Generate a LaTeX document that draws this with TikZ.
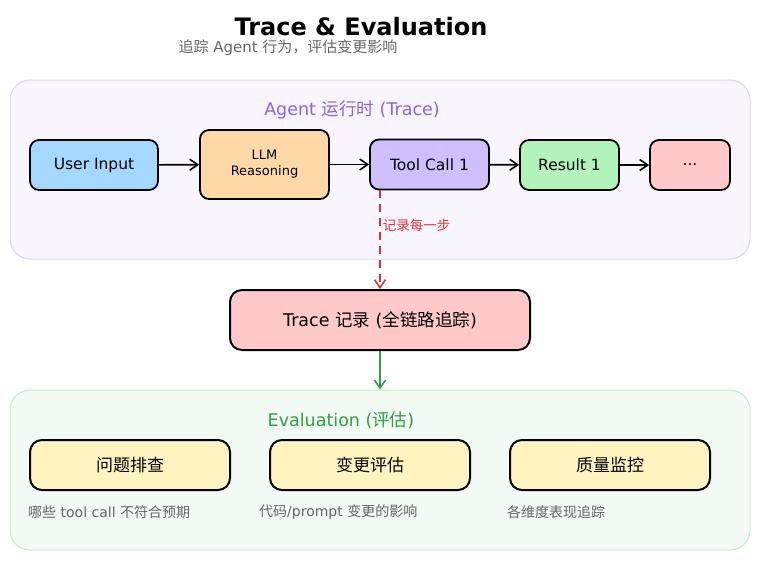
\documentclass[tikz,border=0pt]{standalone}
\usepackage{fontspec}
\setmainfont{DejaVu Sans}
\newfontfamily\zh{Noto Sans CJK SC}
\usetikzlibrary{positioning,arrows.meta}
\definecolor{runbg}{HTML}{F8F5FE}
\definecolor{runline}{HTML}{DDD3F7}
\definecolor{runtext}{HTML}{8A63E8}
\definecolor{evalbg}{HTML}{F1FAF3}
\definecolor{evalline}{HTML}{C4EBCC}
\definecolor{evaltext}{HTML}{2F9E44}
\definecolor{logred}{HTML}{E03131}
\definecolor{blueF}{HTML}{A5D8FF}
\definecolor{orangeF}{HTML}{FFD8A8}
\definecolor{violetF}{HTML}{D0BFFF}
\definecolor{greenF}{HTML}{B2F2BB}
\definecolor{redF}{HTML}{FFC9C9}
\definecolor{yellowF}{HTML}{FFF3BF}
\definecolor{subgray}{HTML}{666666}

\begin{document}
\begin{tikzpicture}[
    x=1pt, y=-1pt,
    panel/.style={rectangle, rounded corners=20pt, line width=1pt,
                  inner sep=0pt},
    step box/.style={rectangle, draw=black, rounded corners=9pt,
                     line width=1.8pt, minimum height=50pt,
                     font=\fontsize{15.5}{18}\selectfont},
    goal box/.style={step box, fill=yellowF, minimum width=200pt,
                     line width=2pt, rounded corners=12pt,
                     font=\fontsize{17}{19}\selectfont\zh},
    flow/.style={-{Straight Barb[length=8pt,width=11pt]}, line width=1.6pt},
    tag/.style={font=\fontsize{14}{16}\selectfont, text=subgray,
                anchor=west, inner sep=0pt}
]

    \useasboundingbox (0,0) rectangle (760,560);

    % title
    \node (title) at (361,27) {\fontsize{24}{28}\selectfont\bfseries Trace \& Evaluation};
    \node[text=subgray, font=\fontsize{15}{17}\selectfont] (subtitle) at (288,48)
        {{\zh 追踪} Agent {\zh 行为，评估变更影响}};

    % agent runtime panel
    \node[panel, draw=runline, fill=runbg, minimum width=740pt,
          minimum height=179pt] (runpanel) at (380,169.5) {};
    \node[text=runtext, font=\fontsize{17.5}{20}\selectfont] (runlabel) at (352,110)
        {Agent {\zh 运行时} (Trace)};

    \node[step box, fill=blueF, minimum width=128pt] (user) at (94,165) {User Input};
    \node[step box, fill=orangeF, minimum width=129pt, minimum height=69pt,
          align=center, font=\fontsize{13}{16}\selectfont] (llm) at (264.5,164.5)
        {LLM\\Reasoning};
    \node[step box, fill=violetF, minimum width=119pt] (tool) at (429.5,164.5) {Tool Call 1};
    \node[step box, fill=greenF, minimum width=99pt] (result) at (569.5,165) {Result 1};
    \node[step box, fill=redF, minimum width=80pt] (more) at (690,165) {...};

    \draw[flow] (user) -- (llm);
    \draw[flow] (llm) -- (tool);
    \draw[flow] (tool) -- (result);
    \draw[flow] (result) -- (more);

    % trace record
    \node[step box, fill=redF, minimum width=300pt, minimum height=60pt,
          line width=2pt, rounded corners=12pt,
          font=\fontsize{17.5}{20}\selectfont] (trace) at (380,320)
        {Trace {\zh 记录} ({\zh 全链路追踪})};

    \draw[flow, draw=logred, dashed, dash pattern=on 8pt off 6pt]
        (tool.south -| trace.north) -- node[pos=0.35, right, inner sep=2pt,
        text=logred, font=\fontsize{13.5}{15}\selectfont\zh] (steplabel) {记录每一步}
        (trace.north);

    % evaluation panel
    \node[panel, draw=evalline, fill=evalbg, minimum width=740pt,
          minimum height=160pt] (evalpanel) at (380,470) {};
    \node[text=evaltext, font=\fontsize{17.5}{20}\selectfont] (evallabel) at (341,420)
        {Evaluation ({\zh 评估})};

    \draw[flow, draw=evaltext] (trace.south) -- (trace.south |- evalpanel.north);

    \node[goal box] (debug) at (130,465) {问题排查};
    \node[goal box] (change) at (370,465) {变更评估};
    \node[goal box] (monitor) at (610,465) {质量监控};

    \node[tag] (debugtag) at (28,512) {{\zh 哪些} tool call {\zh 不符合预期}};
    \node[tag] (changetag) at (259,512) {{\zh 代码}/prompt {\zh 变更的影响}};
    \node[tag, font=\fontsize{14}{16}\selectfont\zh] (monitortag) at (507,512) {各维度表现追踪};

\end{tikzpicture}
\end{document}
